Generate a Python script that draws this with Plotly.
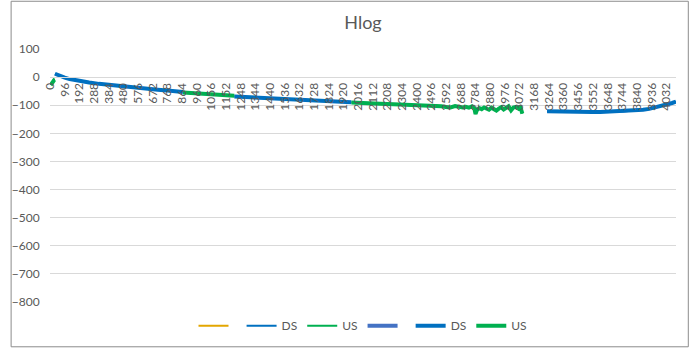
import plotly.graph_objects as go

# ---- data (tone index, Hlog value in dB) ----
ds_tone = [32, 64, 96, 128, 192, 256, 320, 384, 448, 512, 576, 640, 704, 768, 832, 869, None,
           1206, 1280, 1344, 1408, 1472, 1536, 1600, 1664, 1728, 1792, 1856, 1920, 1971, None,
           3252, 3300, 3350, 3400, 3450, 3500, 3550, 3600, 3650, 3700, 3750, 3800, 3840, 3880,
           3920, 3960, 4000, 4040, 4070, 4095]
ds_val = [12, 4, -2, -7, -14, -19, -24, -28, -32, -36, -39, -42, -45, -48, -51, -53, None,
          -69, -71, -72, -73, -74, -76, -78, -79, -81, -83, -85, -87, -89, None,
          -121, -122, -120, -121, -122, -123, -124, -124, -123, -123, -122, -120, -118, -116,
          -113, -108, -103, -97, -92, -87]

us_tone = [4, 10, 16, 22, 28, 32, None,
           870, 900, 950, 1000, 1050, 1100, 1150, 1205, None,
           1972, 2016, 2064, 2112, 2160, 2208, 2256, 2304, 2352, 2400, 2440, 2480, 2520,
           2560, 2590, 2620, 2650, 2680, 2700, 2720, 2740, 2760, 2776, 2784, 2792, 2808,
           2824, 2840, 2856, 2872, 2888, 2904, 2920, 2936, 2952, 2968, 2984, 3000, 3016,
           3032, 3048, 3064, 3076, 3084, 3090]
us_val = [-28, -22, -16, -12, -10, -9, None,
          -55, -56, -58, -59, -61, -62, -64, -66, None,
          -90, -92, -93, -95, -95, -96, -97, -98, -99, -100, -101, -103, -101,
          -104, -106, -108, -103, -106, -108, -106, -109, -104, -112, -131, -118, -110,
          -114, -108, -112, -116, -109, -113, -119, -112, -107, -115, -110, -104, -118,
          -108, -106, -112, -104, -114, -130]

x_tickvals = list(range(0, 4033, 96))
x_ticktext = [str(v) for v in x_tickvals]
y_tickvals = [100, 0, -100, -200, -300, -400, -500, -600, -700, -800]

FONT = "Lato"
TXT = "#595959"

fig = go.Figure()
fig.add_trace(go.Scatter(x=[None], y=[None], mode="lines", name=" ",
                         line=dict(color="#E3A600", width=2)))
fig.add_trace(go.Scatter(x=ds_tone, y=ds_val, mode="lines", name="DS",
                         line=dict(color="#0070C0", width=2)))
fig.add_trace(go.Scatter(x=us_tone, y=us_val, mode="lines", name="US",
                         line=dict(color="#00B050", width=2)))
fig.add_trace(go.Scatter(x=[None], y=[None], mode="lines", name=" ",
                         line=dict(color="#4472C4", width=4)))
fig.add_trace(go.Scatter(x=ds_tone, y=ds_val, mode="lines", name="DS",
                         line=dict(color="#0070C0", width=4)))
fig.add_trace(go.Scatter(x=us_tone, y=us_val, mode="lines", name="US",
                         line=dict(color="#00B050", width=4)))

L, R, T, B = 40, 13, 49, 46
W, H = 689, 352
pw, ph = W - L - R, H - T - B

fig.update_layout(
    width=W, height=H,
    margin=dict(l=L, r=R, t=T, b=B),
    paper_bgcolor="white", plot_bgcolor="white",
    font=dict(family=FONT, size=12, color=TXT),
    title=dict(text="Hlog", x=0.5, xref="paper", xanchor="center",
               y=1 - 23 / H, yref="container", yanchor="middle",
               font=dict(family=FONT, size=18, color=TXT)),
    showlegend=True,
    legend=dict(orientation="h", x=0.5, xanchor="center", y=-24 / ph, yanchor="middle",
                font=dict(family=FONT, size=12, color=TXT), bgcolor="rgba(0,0,0,0)"),
    xaxis=dict(range=[-0.5, 4095.5], tickmode="array", tickvals=x_tickvals,
               ticktext=x_ticktext, tickangle=-90, showgrid=False, zeroline=False,
               anchor="free", position=800 / 900, showline=True, linecolor="#D9D9D9",
               linewidth=1, ticks="", tickfont=dict(family=FONT, size=12, color=TXT)),
    yaxis=dict(range=[-800, 100], tickmode="array", tickvals=y_tickvals,
               showgrid=True, gridcolor="#D9D9D9", gridwidth=1, zeroline=False,
               showline=False, ticks="outside", ticklen=7, tickcolor="rgba(0,0,0,0)",
               tickfont=dict(family=FONT, size=12, color=TXT)),
    shapes=[dict(type="rect", xref="paper", yref="paper",
                 x0=(0.5 - L) / pw, x1=(W - 0.5 - L) / pw,
                 y0=-(B - 0.5) / ph, y1=1 + (T - 0.5) / ph,
                 line=dict(color="#8C8C8C", width=1), fillcolor="rgba(0,0,0,0)",
                 layer="below")],
)

fig.write_html("out.html")
